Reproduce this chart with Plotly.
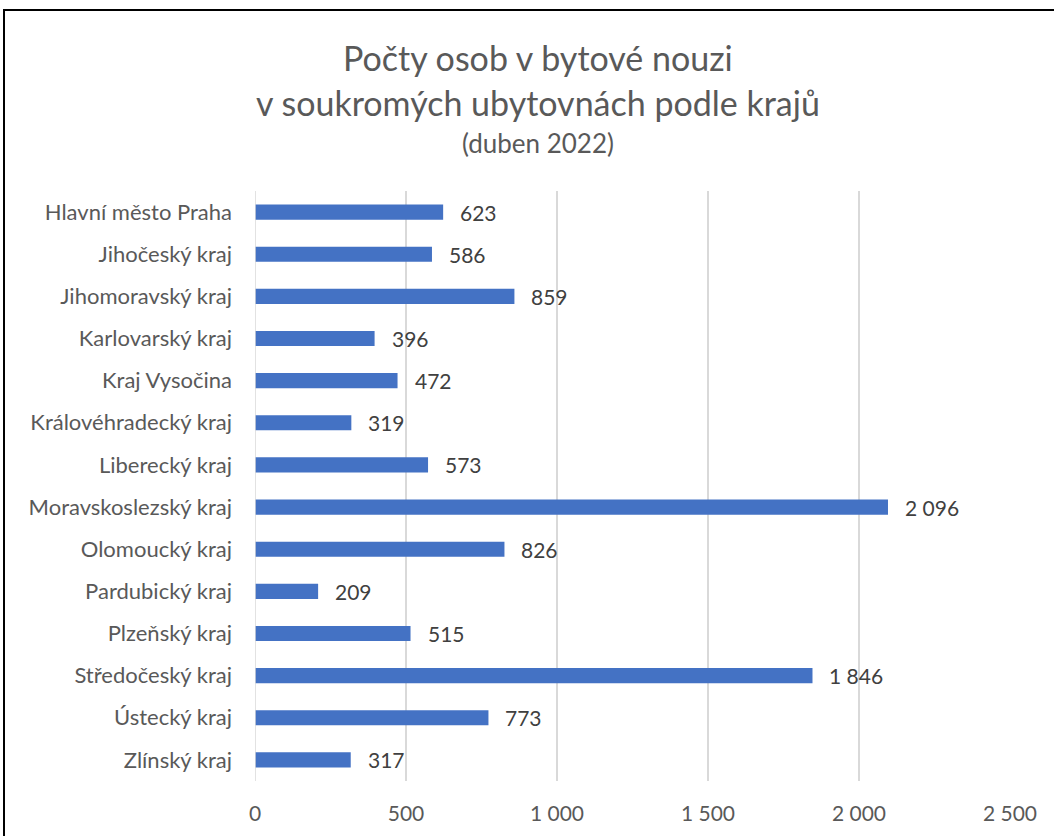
import plotly.graph_objects as go

categories = ["Hlavní město Praha", "Jihočeský kraj", "Jihomoravský kraj", "Karlovarský kraj",
              "Kraj Vysočina", "Královéhradecký kraj", "Liberecký kraj", "Moravskoslezský kraj",
              "Olomoucký kraj", "Pardubický kraj", "Plzeňský kraj", "Středočeský kraj",
              "Ústecký kraj", "Zlínský kraj"]
values = [623, 586, 859, 396, 472, 319, 573, 2096, 826, 209, 515, 1846, 773, 317]
tick_vals = [0, 500, 1000, 1500, 2000, 2500]
tick_text = ["0", "500", "1 000", "1 500", "2 000", "2 500"]
title_lines = ["Počty osob v bytové nouzi", "v soukromých ubytovnách podle krajů", "(duben 2022)"]

W, H = 1054, 836
ml, mr, mt, mb = 255, 44, 191, 55
pw, ph = W - ml - mr, H - mt - mb

def px(x):
    return (x - ml) / pw

def py(y):
    return (H - mb - y) / ph

FONT = "Lato"

fig = go.Figure(go.Bar(
    x=values, y=categories, orientation="h",
    marker=dict(color="#4472C4", line=dict(width=0)),
    width=0.36, hoverinfo="x+y",
))

annotations = []
for c, v in zip(categories, values):
    annotations.append(dict(
        x=v, y=c, xref="x", yref="y", text=f"{v:,}".replace(",", " "),
        showarrow=False, xanchor="left", xshift=15,
        font=dict(family=FONT, size=21, color="#404040"),
    ))
annotations += [
    dict(x=px(538), y=py(58), xref="paper", yref="paper", text=title_lines[0], showarrow=False,
         xanchor="center", yanchor="middle", font=dict(family=FONT, size=34, color="#595959")),
    dict(x=px(538), y=py(103), xref="paper", yref="paper", text=title_lines[1], showarrow=False,
         xanchor="center", yanchor="middle", font=dict(family=FONT, size=34, color="#595959")),
    dict(x=px(538), y=py(143), xref="paper", yref="paper", text=title_lines[2], showarrow=False,
         xanchor="center", yanchor="middle", font=dict(family=FONT, size=26, color="#595959")),
]

fig.update_layout(
    width=W, height=H,
    margin=dict(l=ml, r=mr, t=mt, b=mb),
    paper_bgcolor="white", plot_bgcolor="white",
    showlegend=False,
    annotations=annotations,
    shapes=[dict(type="rect", xref="paper", yref="paper",
                 x0=px(4), x1=px(1080), y0=py(860), y1=py(10),
                 line=dict(color="black", width=2), layer="below")],
    xaxis=dict(range=[0, 2500], tickvals=tick_vals, ticktext=tick_text,
               showgrid=True, gridcolor="#D9D9D9", gridwidth=1.5,
               zeroline=False, showline=False, ticks="",
               tickfont=dict(family=FONT, size=21, color="#595959"),
               ticklabelstandoff=18, fixedrange=True),
    yaxis=dict(categoryorder="array", categoryarray=categories, autorange="reversed",
               showgrid=False, zeroline=False, showline=False, ticks="",
               tickfont=dict(family=FONT, size=22, color="#595959"),
               ticklabelstandoff=22, fixedrange=True),
)
fig.add_shape(type="line", xref="x", yref="paper", x0=0, x1=0, y0=0, y1=1,
              line=dict(color="#D9D9D9", width=1.5))

fig.write_html("out.html", config={"displayModeBar": False},
               post_script="document.body.style.margin='0';")
